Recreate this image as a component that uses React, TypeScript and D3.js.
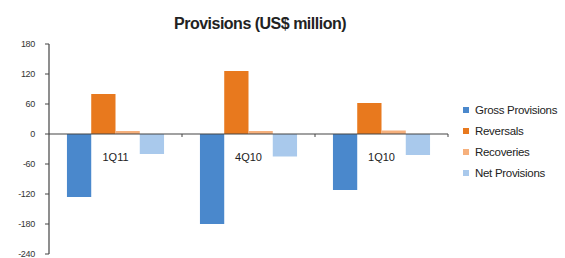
import React from "react";
import * as d3 from "d3";

const quarters = ["1Q11", "4Q10", "1Q10"];
const seriesNames = ["Gross Provisions", "Reversals", "Recoveries", "Net Provisions"];
const grossProvisions = [-126, -180, -112];
const reversals = [80, 126, 62];
const recoveries = [6, 6, 7];
const netProvisions = [-40, -45, -42];
const yTicks = [180, 120, 60, 0, -60, -120, -180, -240];
const colors = ["#4a88cc", "#e8791e", "#f6b07c", "#a9c9ec"];

const App = () => {
  const width = 565;
  const height = 258;
  const MARGIN = { top: 44, left: 49 };
  const plotW = 399;
  const plotH = 210;

  const series = [grossProvisions, reversals, recoveries, netProvisions];

  const yScale = d3.scaleLinear().domain([-240, 180]).range([MARGIN.top + plotH, MARGIN.top]);
  const xScale = d3
    .scaleBand()
    .domain(quarters)
    .range([MARGIN.left, MARGIN.left + plotW])
    .paddingInner(0.27)
    .paddingOuter(0.135);
  const inner = d3
    .scaleBand()
    .domain(seriesNames)
    .range([0, xScale.bandwidth()]);

  const y0 = yScale(0);
  const step = xScale.step();
  const boundaries = d3.range(quarters.length + 1).map((i) => MARGIN.left + i * step);

  return (
    <svg width={width} height={height} style={{ position: "absolute", left: 0, top: 0, background: "#fff" }}
      fontFamily="Liberation Sans, Arial, sans-serif">
      <text x={260} y={29} textAnchor="middle" fontSize={16} fontWeight="bold" letterSpacing={-0.5} fill="#222">
        Provisions (US$ million)
      </text>

      {/* bars */}
      {series.map((vals, si) =>
        vals.map((v, qi) => {
          const x = (xScale(quarters[qi]) ?? 0) + (inner(seriesNames[si]) ?? 0);
          const y = yScale(Math.max(0, v));
          const h = Math.abs(yScale(v) - y0);
          return <rect key={si + "-" + qi} x={x} y={y} width={inner.bandwidth()} height={h} fill={colors[si]} />;
        })
      )}

      {/* y axis */}
      <line x1={MARGIN.left} x2={MARGIN.left} y1={MARGIN.top} y2={MARGIN.top + plotH} stroke="#444" strokeWidth={1.2} />
      {yTicks.map((t) => (
        <g key={t}>
          <line x1={MARGIN.left - 4} x2={MARGIN.left} y1={yScale(t)} y2={yScale(t)} stroke="#444" />
          <text x={35} y={yScale(t) + 3} textAnchor="end" fontSize={9} fill="#333" letterSpacing={-0.3}>
            {t}
          </text>
        </g>
      ))}

      {/* x axis */}
      <line x1={MARGIN.left} x2={MARGIN.left + plotW} y1={y0} y2={y0} stroke="#444" strokeWidth={1.2} />
      {boundaries.slice(1).map((b, i) => (
        <line key={i} x1={b} x2={b} y1={y0} y2={y0 + 3} stroke="#444" />
      ))}
      {quarters.map((q) => (
        <text key={q} x={(xScale(q) ?? 0) + xScale.bandwidth() / 2} y={161} textAnchor="middle" fontSize={11} fill="#222">
          {q}
        </text>
      ))}

      {/* legend */}
      {seriesNames.map((n, i) => (
        <g key={n} transform={`translate(463, ${110 + i * 21})`}>
          <rect x={0} y={-3} width={6} height={6} fill={colors[i]} />
          <text x={12} y={4} fontSize={11.5} fill="#222" letterSpacing={-0.3}>
            {n}
          </text>
        </g>
      ))}
    </svg>
  );
};

export default App;
